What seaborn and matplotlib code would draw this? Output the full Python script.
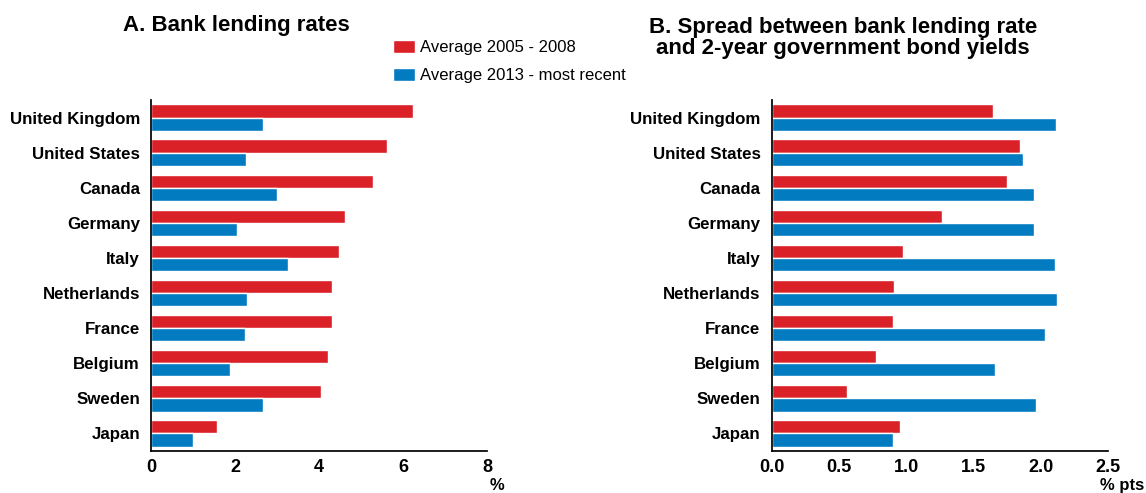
import pandas as pd
import matplotlib
matplotlib.use('Agg')
import matplotlib.pyplot as plt
import seaborn as sns

COUNTRIES = ['United Kingdom', 'United States', 'Canada', 'Germany', 'Italy',
             'Netherlands', 'France', 'Belgium', 'Sweden', 'Japan']
SERIES = ['Average 2005 - 2008', 'Average 2013 - most recent']

# panel A: bank lending rates, %
lending_0508 = [6.23, 5.62, 5.29, 4.62, 4.48, 4.30, 4.30, 4.21, 4.04, 1.56]
lending_13 = [2.67, 2.25, 3.00, 2.04, 3.25, 2.28, 2.23, 1.89, 2.67, 0.99]

# panel B: spread vs 2-year government bond yields, % pts
spread_0508 = [1.65, 1.85, 1.75, 1.265, 0.98, 0.91, 0.90, 0.776, 0.56, 0.957]
spread_13 = [2.115, 1.87, 1.95, 1.95, 2.105, 2.12, 2.03, 1.66, 1.97, 0.90]

RED = '#DA2128'
BLUE = '#037BC1'


def long_df(first, second):
    df = pd.DataFrame({'country': COUNTRIES * 2,
                       'value': first + second,
                       'series': [SERIES[0]] * len(COUNTRIES) + [SERIES[1]] * len(COUNTRIES)})
    return df


def draw_panel(ax, df, xmax, xticks, fmt):
    sns.barplot(data=df, y='country', x='value', hue='series', order=COUNTRIES,
                hue_order=SERIES, palette=[RED, BLUE], width=0.75, saturation=1,
                orient='h', ax=ax, legend=True)
    ax.set_xlim(0, xmax)
    ax.set_xticks(xticks)
    ax.set_xticklabels([fmt.format(t) for t in xticks], fontsize=13, fontweight='bold')
    ax.set_yticks(range(len(COUNTRIES)))
    ax.set_yticklabels(COUNTRIES, fontsize=12.2, fontweight='bold')
    ax.set_xlabel('')
    ax.set_ylabel('')
    ax.tick_params(axis='y', length=0, pad=8, colors='black')
    ax.tick_params(axis='x', direction='in', length=4, width=0.8, pad=6, colors='black')
    for side in ['top', 'right']:
        ax.spines[side].set_visible(False)
    ax.spines['left'].set_color('black')
    ax.spines['bottom'].set_color('black')
    ax.grid(False)


sns.set_theme(style='white')
plt.rcParams['font.family'] = ['Liberation Sans', 'DejaVu Sans']
plt.rcParams['text.color'] = 'black'

fig = plt.figure(figsize=(11.46, 4.93), dpi=100)
ax1 = fig.add_axes([0.1318, 0.0852, 0.2932, 0.712])
ax2 = fig.add_axes([0.6734, 0.0852, 0.2932, 0.712])

draw_panel(ax1, long_df(lending_0508, lending_13), 8, [0, 2, 4, 6, 8], '{:g}')
draw_panel(ax2, long_df(spread_0508, spread_13), 2.5, [0, 0.5, 1.0, 1.5, 2.0, 2.5], '{:.1f}')

handles, labels = ax1.get_legend_handles_labels()
ax1.legend_.remove()
ax2.legend_.remove()
fig.legend(handles, labels, loc='upper left', bbox_to_anchor=(0.337, 0.932),
           frameon=False, fontsize=12, handlelength=1.3, handleheight=0.8,
           handletextpad=0.3, labelspacing=0.75, borderaxespad=0, labelcolor='black')

fig.text(236 / 1146, 1 - 26 / 493, 'A. Bank lending rates', ha='center', va='center',
         fontsize=16, fontweight='bold')
fig.text(843 / 1146, 1 - 38 / 493, 'B. Spread between bank lending rate\nand 2-year government bond yields',
         ha='center', va='center', fontsize=16, fontweight='bold', linespacing=1.0)

fig.text(497 / 1146, 1 - 478 / 493, '%', ha='center', va='top', fontsize=12, fontweight='bold')
fig.text(1122 / 1146, 1 - 478 / 493, '% pts', ha='center', va='top', fontsize=12, fontweight='bold')

fig.savefig('out.png', dpi=100)
